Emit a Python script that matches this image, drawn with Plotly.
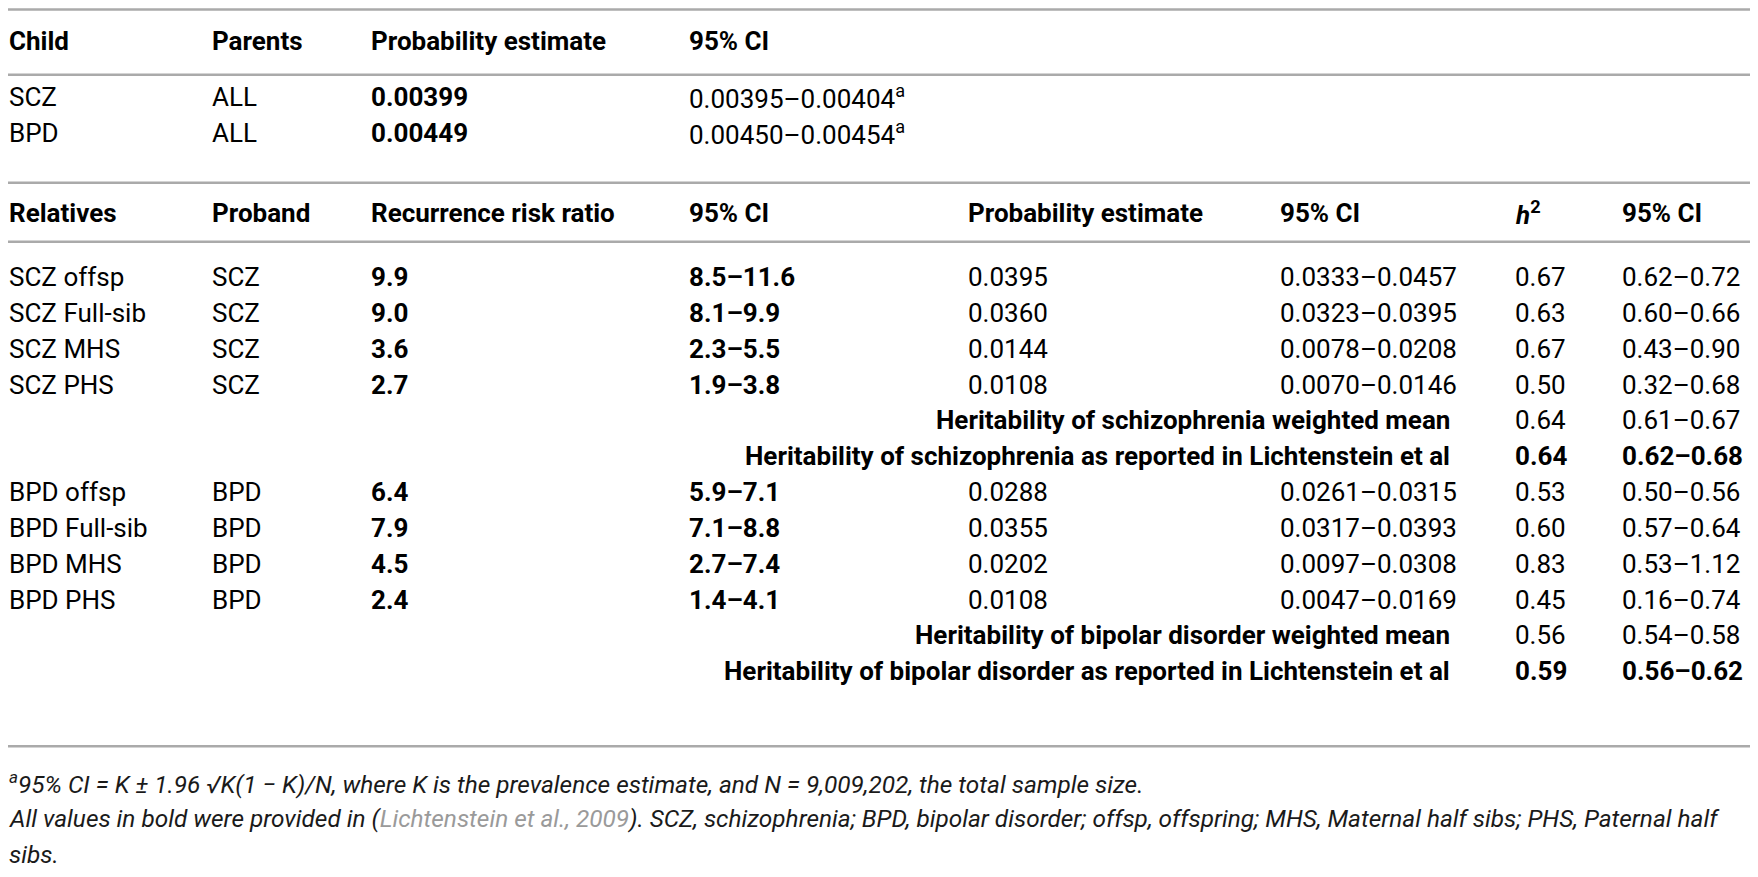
import plotly.graph_objects as go

# --- table data -------------------------------------------------------------
top_header = ["Child", "Parents", "Probability estimate", "95% CI"]
child = ["SCZ", "BPD"]
parents = ["ALL", "ALL"]
prob_all = ["0.00399", "0.00449"]
ci_all = ["0.00395–0.00404", "0.00450–0.00454"]

rel_header = ["Relatives", "Proband", "Recurrence risk ratio", "95% CI",
              "Probability estimate", "95% CI", "<i>h</i><sup>2</sup>", "95% CI"]
relatives = ["SCZ offsp", "SCZ Full-sib", "SCZ MHS", "SCZ PHS",
             "BPD offsp", "BPD Full-sib", "BPD MHS", "BPD PHS"]
proband = ["SCZ", "SCZ", "SCZ", "SCZ", "BPD", "BPD", "BPD", "BPD"]
rrr = ["9.9", "9.0", "3.6", "2.7", "6.4", "7.9", "4.5", "2.4"]
rrr_ci = ["8.5–11.6", "8.1–9.9", "2.3–5.5", "1.9–3.8",
          "5.9–7.1", "7.1–8.8", "2.7–7.4", "1.4–4.1"]
prob_rel = ["0.0395", "0.0360", "0.0144", "0.0108",
            "0.0288", "0.0355", "0.0202", "0.0108"]
prob_ci = ["0.0333–0.0457", "0.0323–0.0395", "0.0078–0.0208", "0.0070–0.0146",
           "0.0261–0.0315", "0.0317–0.0393", "0.0097–0.0308", "0.0047–0.0169"]
h2 = ["0.67", "0.63", "0.67", "0.50", "0.53", "0.60", "0.83", "0.45"]
h2_ci = ["0.62–0.72", "0.60–0.66", "0.43–0.90", "0.32–0.68",
         "0.50–0.56", "0.57–0.64", "0.53–1.12", "0.16–0.74"]

summary_labels = ["Heritability of schizophrenia weighted mean",
                  "Heritability of schizophrenia as reported in Lichtenstein et al",
                  "Heritability of bipolar disorder weighted mean",
                  "Heritability of bipolar disorder as reported in Lichtenstein et al"]
summary_h2 = ["0.64", "0.64", "0.56", "0.59"]
summary_ci = ["0.61–0.67", "0.62–0.68", "0.54–0.58", "0.56–0.62"]
summary_bold = [False, True, False, True]

footnotes = [
    "<sup>a</sup>95% CI = K ± 1.96 √K(1 − K)/N, where K is the prevalence estimate, "
    "and N = 9,009,202, the total sample size.",
    "All values in bold were provided in (<span style='color:#9a9a9a'>Lichtenstein et al., 2009</span>). "
    "SCZ, schizophrenia; BPD, bipolar disorder; offsp, offspring; MHS, Maternal half sibs; PHS, Paternal half",
    "sibs.",
]

# --- layout helpers ---------------------------------------------------------
# page body keeps an 8px margin, so the figure is sized to fit the window;
# the axes still run in reference-pixel units
W, H = 1758, 877
FIG_W, FIG_H = 1742, 861
FONT = "Roboto, Liberation Sans, sans-serif"
SIZE = 26
col_x = [0, 205, 365, 686, 968, 1283, 1520, 1628]
label_right = 1456
pitch = 36.5
line_color = "#aaaaaa"

fig = go.Figure()
ann = []


def cell(x, y, text, bold=False, anchor="left", italic=False, size=SIZE, color="black"):
    if bold:
        text = "<b>" + text + "</b>"
    if italic:
        text = "<i>" + text + "</i>"
    ann.append(dict(x=x, y=y, xref="x", yref="y", text=text, showarrow=False,
                    xanchor=anchor, yanchor="middle", align=anchor,
                    borderpad=0, font=dict(family=FONT, size=size, color=color)))


# top section
for i, h in enumerate(top_header):
    cell(col_x[i], 34, h, bold=True)
for r in range(len(child)):
    y = 91 + r * pitch
    cell(col_x[0], y, child[r])
    cell(col_x[1], y, parents[r])
    cell(col_x[2], y, prob_all[r], bold=True)
    cell(col_x[3], y, ci_all[r] + "<sup>a</sup>")

# relatives section
for i, h in enumerate(rel_header):
    cell(col_x[i], 209, h, bold=True)

row = 0
for block in range(2):
    for k in range(4):
        i = block * 4 + k
        y = 274 + row * pitch
        cell(col_x[0], y, relatives[i])
        cell(col_x[1], y, proband[i])
        cell(col_x[2], y, rrr[i], bold=True)
        cell(col_x[3], y, rrr_ci[i], bold=True)
        cell(col_x[4], y, prob_rel[i])
        cell(col_x[5], y, prob_ci[i])
        cell(col_x[6], y, h2[i])
        cell(col_x[7], y, h2_ci[i])
        row += 1
    for k in range(2):
        j = block * 2 + k
        y = 274 + row * pitch
        cell(label_right, y, summary_labels[j], bold=True, anchor="right")
        cell(col_x[6], y, summary_h2[j], bold=summary_bold[j])
        cell(col_x[7], y, summary_ci[j], bold=summary_bold[j])
        row += 1

# footnotes
for k, t in enumerate(footnotes):
    cell(0, 789 + k * 36.5, t, italic=True, size=24.4, color="#1a1a1a")

# horizontal rules
for yl in [1.5, 68, 178, 238, 752]:
    fig.add_shape(type="line", xref="x", yref="y", x0=0, x1=W, y0=yl, y1=yl,
                  line=dict(color=line_color, width=2.5))

fig.update_layout(
    width=FIG_W, height=FIG_H,
    margin=dict(l=0, r=0, t=0, b=0),
    plot_bgcolor="white", paper_bgcolor="white",
    xaxis=dict(range=[0, W], visible=False, fixedrange=True),
    yaxis=dict(range=[H, 0], visible=False, fixedrange=True),
    annotations=ann,
    showlegend=False,
)

fig.write_html("out.html")
